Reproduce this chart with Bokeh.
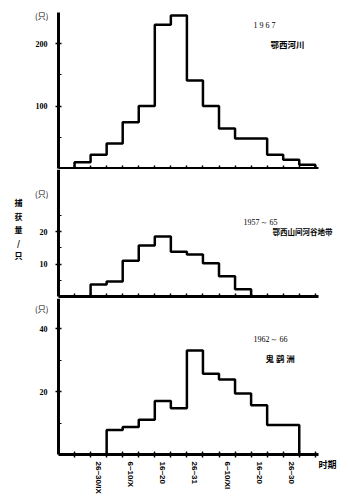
import math
from bokeh.plotting import figure
from bokeh.layouts import column
from bokeh.models import FixedTicker, Label, Range1d
from bokeh.embed import file_html
from bokeh.resources import INLINE

# five-day periods (Sept 21 .. Dec 5)
periods = ["21~25/IX", "26~30/IX", "1~5/X", "6~10/X", "11~15", "16~20", "21~25",
           "26~31", "1~5/XI", "6~10/XI", "11~15", "16~20", "21~25", "26~30", "1~5/XII"]
labelled = [1, 3, 5, 7, 9, 11, 13]

counts_1967 = [10, 22, 40, 74, 100, 230, 245, 141, 100, 64, 48, 48, 22, 14, 6]
counts_1957_65 = [0, 3.7, 4.6, 11, 15.7, 18.5, 13.8, 12.9, 10.2, 6.2, 2.2, 0, 0, 0, 0]
counts_1962_66 = [0, 0, 7.8, 8.7, 11, 17, 14.7, 33, 25.6, 23.8, 19.4, 15.6, 9.4, 9.4, 0]

top_ticks, top_minor = [100, 200], [50, 150]
mid_ticks, mid_minor = [10, 20], [5, 15, 25]
bot_ticks, bot_minor = [20, 40], [10, 30]

CJK = "Noto Sans CJK SC"
NUM = "Liberation Serif"

W = 340          # canvas width (px)
PX_BIN = 16.05   # px per five-day bin
AXIS_X = 58      # px of the y axis from the canvas left
X0 = -1 - AXIS_X / PX_BIN
X1 = X0 + W / PX_BIN
XAX_END = 15.2


def panel(counts, height, base_px, px_unit, yaxis_top, ticks, minor, bottom):
    y0 = -(height - base_px) / px_unit
    y1 = base_px / px_unit
    p = figure(frame_width=W, frame_height=height,
               x_range=Range1d(X0, X1), y_range=Range1d(y0, y1),
               output_backend="svg", toolbar_location=None,
               min_border_left=0, min_border_right=0,
               min_border_top=0, min_border_bottom=0,
               outline_line_color=None)
    p.grid.visible = False
    edges = list(range(len(counts) + 1))
    xs = [edges[0]] + edges
    ys = [0] + list(counts) + [0]
    p.step(x=xs, y=ys, mode="after", line_width=2.5, line_color="black")

    ya = p.yaxis[0]
    ya.fixed_location = -1
    ya.bounds = (0, yaxis_top)
    ya.ticker = FixedTicker(ticks=ticks, minor_ticks=minor)
    ya.axis_line_width = 3
    ya.axis_line_color = "black"
    ya.major_tick_line_color = "black"
    ya.minor_tick_line_color = "black"
    ya.major_tick_line_width = 1.5
    ya.major_tick_in = 3
    ya.major_tick_out = 3
    ya.minor_tick_in = 3
    ya.minor_tick_out = 0
    ya.minor_tick_line_width = 1.2
    ya.major_label_text_font_size = "8px"
    ya.major_label_text_font = NUM
    ya.major_label_text_font_style = "bold"
    ya.major_label_text_color = "black"
    ya.major_label_standoff = 8

    xa = p.xaxis[0]
    xa.fixed_location = 0
    xa.bounds = (-1, XAX_END)
    xa.axis_line_width = 3
    xa.axis_line_color = "black"
    xa.minor_tick_line_color = "black"
    xa.minor_tick_line_width = 1.5
    xa.minor_tick_in = 3
    if bottom:
        xa.ticker = FixedTicker(ticks=[i + 0.5 for i in labelled], minor_ticks=edges)
        xa.major_label_overrides = {i + 0.5: periods[i] for i in labelled}
        xa.major_tick_in = 0
        xa.major_tick_out = 0
        xa.minor_tick_out = 3
        xa.major_label_orientation = -math.pi / 2
        xa.major_label_text_font_size = "8px"
        xa.major_label_text_font = "Liberation Sans"
        xa.major_label_text_font_style = "bold"
        xa.major_label_text_color = "black"
        xa.major_label_standoff = 4
    else:
        xa.ticker = FixedTicker(ticks=[], minor_ticks=edges)
        xa.major_tick_in = 0
        xa.major_tick_out = 0
        xa.minor_tick_out = 2
        xa.major_label_text_font_size = "0px"
        xa.major_label_standoff = 0
    return p


def label(p, x, y, text, size, font, bold=False, align="left", baseline="middle", **kw):
    p.add_layout(Label(x=x, x_units="canvas", y=y, text=text, text_align=align,
                       text_baseline=baseline, text_font_size=size, text_font=font,
                       text_color="black",
                       text_font_style="bold" if bold else "normal", **kw))


# canvas heights / baselines (px from canvas top) / px per unit
p1 = panel(counts_1967, 169, 156 + 12, 0.625, 249.6, top_ticks, top_minor, False)
p2 = panel(counts_1957_65, 129, 127, 3.25, 127 / 3.25, mid_ticks, mid_minor, False)
p3 = panel(counts_1962_66, 196, 156, 3.15, 156 / 3.15, bot_ticks, bot_minor, True)

label(p1, 48, 245, "(只)", "8px", CJK, align="right")
label(p2, 48, 31.7, "(只)", "8px", CJK, align="right")
label(p3, 48, 46.3, "(只)", "8px", CJK, align="right")

label(p1, 253, 229, "1 9 6 7", "8px", NUM)
label(p1, 270, 200, "鄂西河川", "8.5px", CJK, bold=True)
label(p2, 243, 22.8, "1957～ 65", "8px", NUM)
label(p2, 272, 20.0, "鄂西山间河谷地带", "7.5px", CJK, bold=True)
label(p3, 253, 36.5, "1962～ 66", "8px", NUM)
label(p3, 265, 30.5, "鬼 鹞 洲", "8.5px", CJK, bold=True)

label(p2, 18, 30.5, "捕\n获\n量\n/\n只", "8px", CJK, bold=True,
      align="center", baseline="top", text_line_height=1.2)
label(p3, 318, -3.2, "时期", "9px", CJK, bold=True)

layout = column(p1, p2, p3, spacing=0)
open("out.html", "w").write(file_html(layout, INLINE))
